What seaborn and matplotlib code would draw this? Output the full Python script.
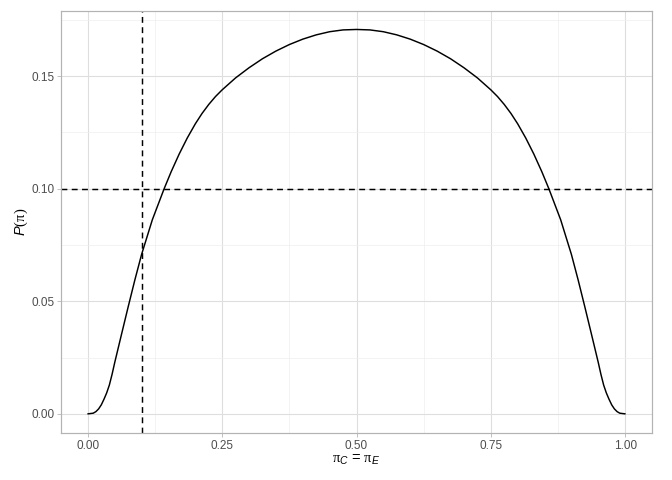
import matplotlib
matplotlib.use("Agg")
import matplotlib.pyplot as plt
from matplotlib.ticker import MultipleLocator
import pandas as pd
import seaborn as sns

# values
pi_vals = [0.000, 0.010, 0.015, 0.020, 0.025, 0.030, 0.035, 0.040, 0.045,
           0.050, 0.0625, 0.075, 0.0875, 0.100, 0.120, 0.142, 0.155, 0.170,
           0.185, 0.200, 0.2125, 0.225, 0.2375, 0.250, 0.275, 0.300, 0.325,
           0.350, 0.375, 0.400, 0.425, 0.450, 0.475, 0.500, 0.525, 0.550,
           0.575, 0.600, 0.625, 0.650, 0.675, 0.700, 0.725, 0.750, 0.7625,
           0.775, 0.7875, 0.800, 0.815, 0.830, 0.845, 0.858, 0.880, 0.900,
           0.9125, 0.925, 0.9375, 0.950, 0.955, 0.960, 0.965, 0.970, 0.975,
           0.980, 0.985, 0.990, 1.000]
p_vals = [0.0000, 0.0003, 0.0010, 0.0022, 0.0040, 0.0065, 0.0093, 0.0128,
          0.0175, 0.0228, 0.0352, 0.0475, 0.0595, 0.0708, 0.0862, 0.1000,
          0.1075, 0.1154, 0.1225, 0.1288, 0.1334, 0.1374, 0.1409, 0.1439,
          0.1492, 0.1537, 0.1577, 0.1611, 0.1640, 0.1664, 0.1683, 0.1697,
          0.1705, 0.1707, 0.1705, 0.1697, 0.1683, 0.1664, 0.1640, 0.1611,
          0.1577, 0.1537, 0.1492, 0.1439, 0.1409, 0.1374, 0.1334, 0.1288,
          0.1225, 0.1154, 0.1075, 0.1000, 0.0862, 0.0708, 0.0595, 0.0475,
          0.0352, 0.0228, 0.0175, 0.0128, 0.0093, 0.0065, 0.0040, 0.0022,
          0.0010, 0.0003, 0.0000]
ref_pi = 0.1
ref_p = 0.1

df = pd.DataFrame({"pi": pi_vals, "P": p_vals})

sns.set_theme(style="whitegrid")
plt.rcParams["font.family"] = ["Liberation Sans", "DejaVu Sans"]
plt.rcParams["mathtext.fontset"] = "custom"
plt.rcParams["mathtext.it"] = "Liberation Sans:italic"
plt.rcParams["mathtext.rm"] = "Liberation Serif"

fig = plt.figure(figsize=(7, 5), dpi=96)
ax = fig.add_axes([61 / 672, 1 - 433 / 480, (652 - 61) / 672, (433 - 11) / 480])

sns.lineplot(data=df, x="pi", y="P", color="black", linewidth=1.1, ax=ax)
ax.axvline(ref_pi, color="black", linestyle=(0, (4, 3)), linewidth=1.1)
ax.axhline(ref_p, color="black", linestyle=(0, (4, 3)), linewidth=1.1)

ax.set_xlim(-0.05, 1.05)
ax.set_ylim(-0.0085, 0.1789)
ax.xaxis.set_minor_locator(MultipleLocator(0.125))
ax.yaxis.set_minor_locator(MultipleLocator(0.025))
ax.set_xticks([0, 0.25, 0.5, 0.75, 1.0])
ax.set_xticklabels(["0.00", "0.25", "0.50", "0.75", "1.00"])
ax.set_yticks([0, 0.05, 0.10, 0.15])
ax.set_yticklabels(["0.00", "0.05", "0.10", "0.15"])

ax.grid(which="major", color="#DEDEDE", linewidth=0.8)
ax.grid(which="minor", color="#EEEEEE", linewidth=0.5)
ax.set_axisbelow(True)
for side in ax.spines.values():
    side.set_color("#B3B3B3")
    side.set_linewidth(0.9)
ax.tick_params(which="major", length=3, width=0.6, color="#B3B3B3",
               labelsize=8.8, labelcolor="#4D4D4D", pad=2,
               bottom=True, left=True)
ax.tick_params(which="minor", length=0)

ax.set_xlabel(r"$\mathrm{\pi}_C$ = $\mathrm{\pi}_E$", fontsize=11,
              color="black", labelpad=1)
ax.set_ylabel(r"$P(\mathrm{\pi})$", fontsize=11, color="black", labelpad=1)

fig.savefig("out.png", dpi=96)
